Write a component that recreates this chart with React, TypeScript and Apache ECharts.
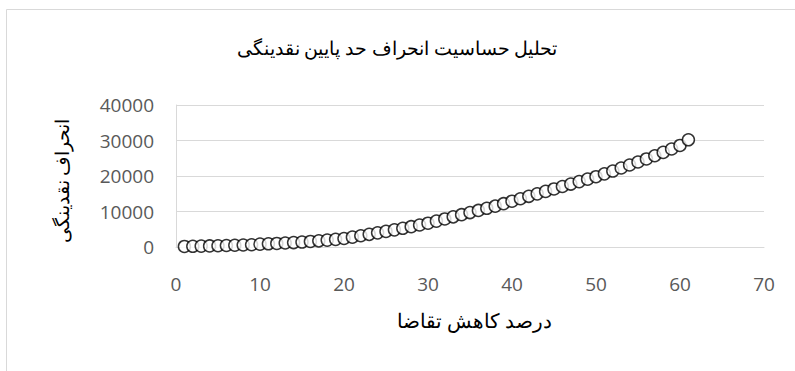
import React, { useEffect, useRef } from "react";
import * as echarts from "echarts";

const titleText = "تحلیل حساسیت انحراف حد پایین نقدینگی";
const xAxisTitle = "درصد کاهش تقاضا";
const yAxisTitle = "انحراف نقدینگی";

const xValues = [
  1, 2, 3, 4, 5, 6, 7, 8, 9, 10,
  11, 12, 13, 14, 15, 16, 17, 18, 19, 20,
  21, 22, 23, 24, 25, 26, 27, 28, 29, 30,
  31, 32, 33, 34, 35, 36, 37, 38, 39, 40,
  41, 42, 43, 44, 45, 46, 47, 48, 49, 50,
  51, 52, 53, 54, 55, 56, 57, 58, 59, 60, 61,
];
const yValues = [
  150, 200, 250, 300, 360, 420, 490, 560, 640, 800,
  900, 1000, 1120, 1250, 1400, 1560, 1740, 1940, 2160, 2400,
  2780, 3170, 3570, 3980, 4400, 4830, 5270, 5720, 6200, 6700,
  7300, 7900, 8500, 9100, 9700, 10300, 10900, 11500, 12200, 12900,
  13590, 14280, 14970, 15660, 16350, 17040, 17730, 18420, 19110, 19800,
  20600, 21400, 22250, 23100, 23950, 24800, 25700, 26650, 27600, 28600, 30200,
];

const serif = "'Times New Roman', 'Liberation Serif', 'DejaVu Serif', serif";
const sans = "'Open Sans', 'Noto Sans', sans-serif";

export default function App() {
  const ref = useRef<HTMLDivElement>(null);
  useEffect(() => {
    if (!ref.current) return;
    const chart = echarts.init(ref.current, undefined, { renderer: "svg" });
    const data = xValues.map((x, i) => [x, yValues[i]]);
    chart.setOption({
      animation: false,
      backgroundColor: "#ffffff",
      grid: { left: 176, right: 31, top: 105, bottom: 124 },
      xAxis: {
        type: "value",
        min: 0,
        max: 70,
        interval: 10,
        axisLine: { show: true, lineStyle: { color: "#d9d9d9", width: 1 } },
        axisTick: { show: false },
        splitLine: { show: false },
        axisLabel: { color: "#595959", fontSize: 19, fontFamily: sans, margin: 27 },
      },
      yAxis: {
        type: "value",
        min: 0,
        max: 40000,
        interval: 10000,
        axisLine: { show: true, lineStyle: { color: "#d9d9d9", width: 1 } },
        axisTick: { show: false },
        splitLine: { show: true, lineStyle: { color: "#d9d9d9", width: 1 } },
        axisLabel: {
          color: "#595959",
          fontSize: 19,
          fontFamily: sans,
          margin: 22,
          formatter: (v: number) => String(v),
        },
      },
      graphic: [
        {
          type: "rect",
          silent: true,
          shape: { x: 6.5, y: 9.5, width: 900, height: 500 },
          style: { fill: "none", stroke: "#d9d9d9", lineWidth: 1 },
          z: -10,
        },
        {
          type: "text",
          x: 397,
          y: 48,
          style: {
            text: titleText,
            fontSize: 19,
            fontFamily: serif,
            fill: "#000000",
            textAlign: "center",
            textVerticalAlign: "middle",
          },
        },
        {
          type: "text",
          x: 474,
          y: 321,
          style: {
            text: xAxisTitle,
            fontSize: 20,
            fontFamily: serif,
            fill: "#000000",
            textAlign: "center",
            textVerticalAlign: "middle",
          },
        },
        {
          type: "text",
          x: 62,
          y: 181,
          rotation: Math.PI / 2,
          style: {
            text: yAxisTitle,
            fontSize: 19,
            fontFamily: serif,
            fill: "#000000",
            textAlign: "center",
            textVerticalAlign: "middle",
          },
        },
      ],
      series: [
        {
          type: "scatter",
          data,
          symbol: "circle",
          symbolSize: 12,
          itemStyle: { color: "#ffffff", borderColor: "#000000", borderWidth: 1.5 },
        },
      ],
    });
    return () => chart.dispose();
  }, []);
  return (
    <div
      ref={ref}
      style={{ position: "fixed", left: 0, top: 0, width: 795, height: 371 }}
    />
  );
}
